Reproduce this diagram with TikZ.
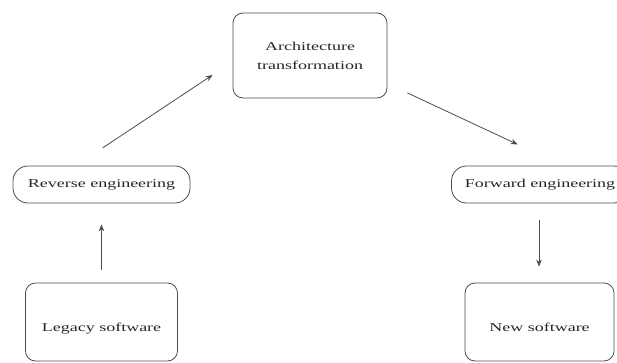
\documentclass[tikz,border=0pt]{standalone}
\usepackage{fontspec}
\setmainfont{Liberation Serif}
\newfontfamily\widefont[FakeStretch=1.5]{Liberation Serif}
\usetikzlibrary{arrows.meta}
\begin{document}
\begin{tikzpicture}[x=1pt,y=-1pt,
  box/.style={draw=black!70, line width=0.8pt, rounded corners=10pt, inner sep=0pt,
    font=\widefont\fontsize{12}{19}\selectfont, text=black!85},
  pill/.style={box, rounded corners=15pt},
  arr/.style={draw=black!70, line width=0.8pt, -{Stealth[length=7pt,width=5.5pt]}}]
\useasboundingbox (0,0) rectangle (617,363);
\clip (0,0) rectangle (617,363);
\node[box, align=center, minimum width=154pt, minimum height=85pt] (arch) at (310,55.5) {Architecture\\transformation};
\node[pill, minimum width=177pt, minimum height=37pt] (rev) at (101.5,184.5) {Reverse engineering};
\node[pill, minimum width=177pt, minimum height=37pt] (fwd) at (540,184.5) {Forward engineering};
\node[box, minimum width=152pt, minimum height=78pt, text height=20pt, text depth=2pt] (leg) at (101.5,322) {Legacy software};
\node[box, minimum width=149pt, minimum height=78pt, text height=20pt, text depth=2pt] (new) at (539.5,322) {New software};
\draw[arr, shorten <=13pt, shorten >=21pt] (leg.north) -- (rev.south);
\draw[arr, shorten <=32pt, shorten >=24pt] ([xshift=-25.5pt]rev.north) -- ([yshift=-6.2pt]arch.west);
\draw[arr, shorten <=22pt, shorten >=50pt] ([yshift=-28.1pt]arch.east) -- ([xshift=23pt]fwd.north);
\draw[arr, shorten <=17pt, shorten >=16pt] ([xshift=-1pt]fwd.south) -- ([xshift=-0.5pt]new.north);
\end{tikzpicture}
\end{document}
